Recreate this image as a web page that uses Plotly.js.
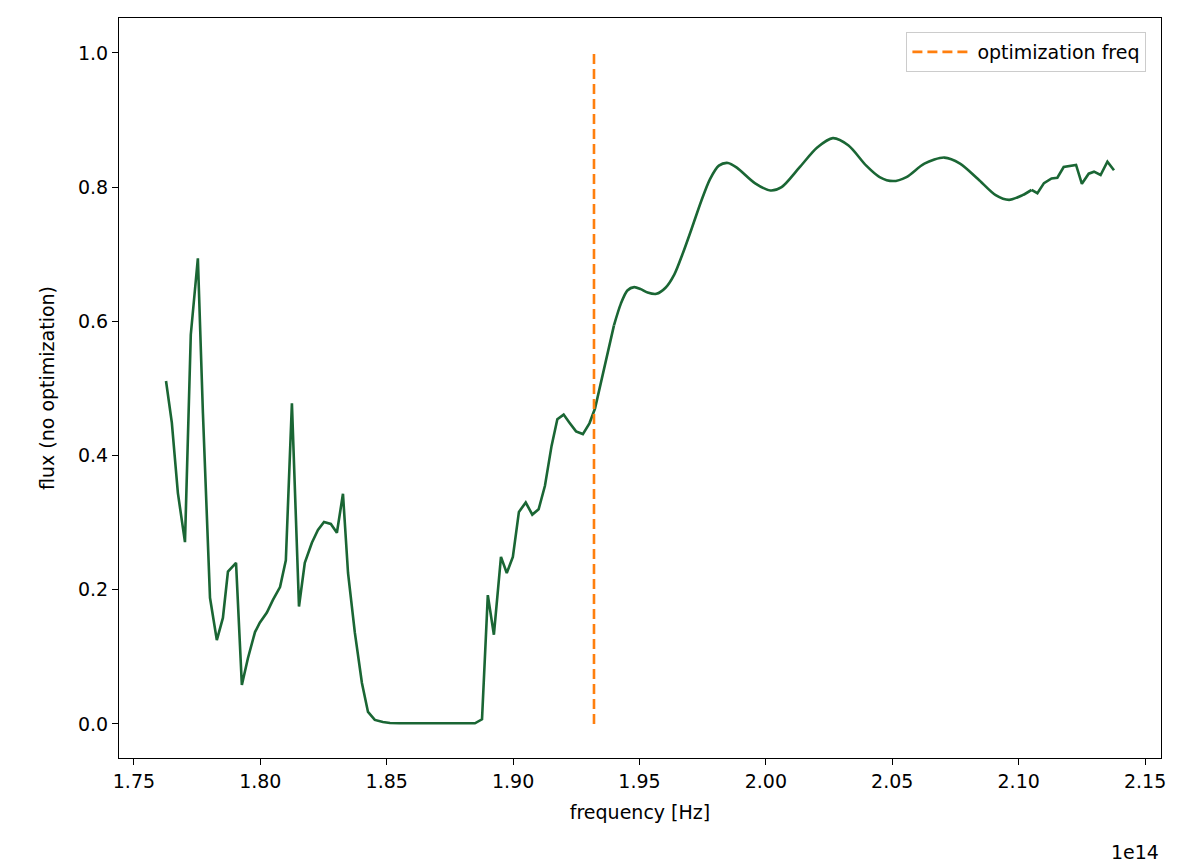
<!DOCTYPE html>
<html>
<head>
<meta charset="utf-8">
<script src="https://cdn.plot.ly/plotly-3.0.1.min.js"></script>
<style>body{margin:0;background:#fff}#chart{width:1184px;height:861px}</style>
</head>
<body>
<div id="chart"></div>
<script>
// frequency in units of 1e14 Hz
const freq = [1.7627,1.7650,1.7674,1.7702,1.7725,1.7753,1.7773,1.7801,1.7828,1.7852,1.7872,1.7904,1.7927,1.7951,1.7979,1.7998,1.8026,1.8050,1.8078,1.8101,1.8125,1.8153,1.8176,1.8204,1.8228,1.8252,1.8279,1.8303,1.8327,1.8347,1.8374,1.8402,1.8426,1.8453,1.8485,1.8513,1.855,1.860,1.865,1.870,1.875,1.880,1.8849,1.8877,1.8900,1.8924,1.8952,1.8975,1.8999,1.9023,1.9050,1.9076,1.9101,1.9126,1.9152,1.9175,1.9200,1.9223,1.9249,1.9276,1.9302,1.9324,1.9346,1.9373,1.9399,1.9426,1.9452,1.9479,1.9505,1.9532,1.9567,1.9603,1.9638,1.9673,1.9709,1.9744,1.9779,1.9814,1.9850,1.9885,1.9956,2.0018,2.0062,2.0132,2.0203,2.0265,2.0327,2.0397,2.0450,2.0503,2.0556,2.0627,2.0706,2.0768,2.0839,2.0909,2.0962,2.1015,2.1051,2.1074,2.1100,2.1130,2.1153,2.1178,2.1227,2.1250,2.1277,2.1298,2.1324,2.1351,2.1377];
const flux = [0.511,0.449,0.344,0.271,0.580,0.694,0.463,0.188,0.125,0.158,0.227,0.240,0.058,0.098,0.137,0.151,0.166,0.185,0.204,0.244,0.478,0.175,0.240,0.270,0.289,0.301,0.298,0.285,0.343,0.225,0.136,0.061,0.018,0.006,0.003,0.0015,0.001,0.001,0.001,0.001,0.001,0.001,0.001,0.007,0.192,0.133,0.249,0.225,0.249,0.316,0.330,0.312,0.320,0.355,0.414,0.454,0.461,0.449,0.436,0.432,0.448,0.470,0.505,0.552,0.594,0.626,0.646,0.651,0.648,0.643,0.641,0.650,0.670,0.703,0.741,0.779,0.812,0.832,0.836,0.829,0.806,0.795,0.800,0.829,0.859,0.873,0.862,0.832,0.815,0.809,0.815,0.835,0.844,0.835,0.812,0.788,0.781,0.788,0.796,0.791,0.806,0.813,0.814,0.830,0.833,0.805,0.820,0.823,0.818,0.838,0.825];
const optFreq = 1.932;
const xTicks = [1.75,1.80,1.85,1.90,1.95,2.00,2.05,2.10,2.15];
const yTicks = [0.0,0.2,0.4,0.6,0.8,1.0];

// jagged low-frequency part drawn straight, smooth oscillating part as spline
const splitA = freq.indexOf(1.9399), splitB = freq.indexOf(2.1051);

const font = {family: "DejaVu Sans", size: 19, color: "#000"};
const green = {color: "#1a6634", width: 2.6};

const traces = [
  {x: freq.slice(0, splitA + 1), y: flux.slice(0, splitA + 1), type: "scatter", mode: "lines", line: green, showlegend: false},
  {x: freq.slice(splitA, splitB + 1), y: flux.slice(splitA, splitB + 1), type: "scatter", mode: "lines",
   line: Object.assign({shape: "spline", smoothing: 0.8}, green), showlegend: false},
  {x: freq.slice(splitB), y: flux.slice(splitB), type: "scatter", mode: "lines", line: green, showlegend: false},
  {x: [optFreq, optFreq], y: [0, 1], type: "scatter", mode: "lines", name: "optimization freq",
   line: {color: "#ff7f0e", width: 2.6, dash: "10px,5px"}}
];

const axisBase = {showline: true, mirror: true, linecolor: "#000", linewidth: 1.2, ticks: "outside",
  ticklen: 6, tickwidth: 1.2, tickcolor: "#000", showgrid: false, zeroline: false, tickfont: font};

const layout = {
  width: 1184, height: 861,
  margin: {l: 119, r: 23, t: 18, b: 103},
  paper_bgcolor: "#fff", plot_bgcolor: "#fff",
  font: font,
  xaxis: Object.assign({}, axisBase, {range: [1.7441, 2.1563], tickvals: xTicks,
    ticktext: xTicks.map(v => v.toFixed(2)), title: {text: "frequency [Hz]", font: font, standoff: 14}}),
  yaxis: Object.assign({}, axisBase, {range: [-0.0507, 1.052], tickvals: yTicks,
    ticktext: yTicks.map(v => v.toFixed(1)), title: {text: "flux (no optimization)", font: font, standoff: 18}}),
  legend: {x: 0.986, y: 0.981, xanchor: "right", yanchor: "top", bgcolor: "rgba(255,255,255,0.8)",
    bordercolor: "#ccc", borderwidth: 1, font: font, itemwidth: 60},
  annotations: [{text: "1e14", xref: "paper", yref: "paper", x: 1, y: -0.11, xanchor: "right", yanchor: "top",
    showarrow: false, font: font}]
};

Plotly.newPlot("chart", traces, layout, {displayModeBar: false});
</script>
</body>
</html>
